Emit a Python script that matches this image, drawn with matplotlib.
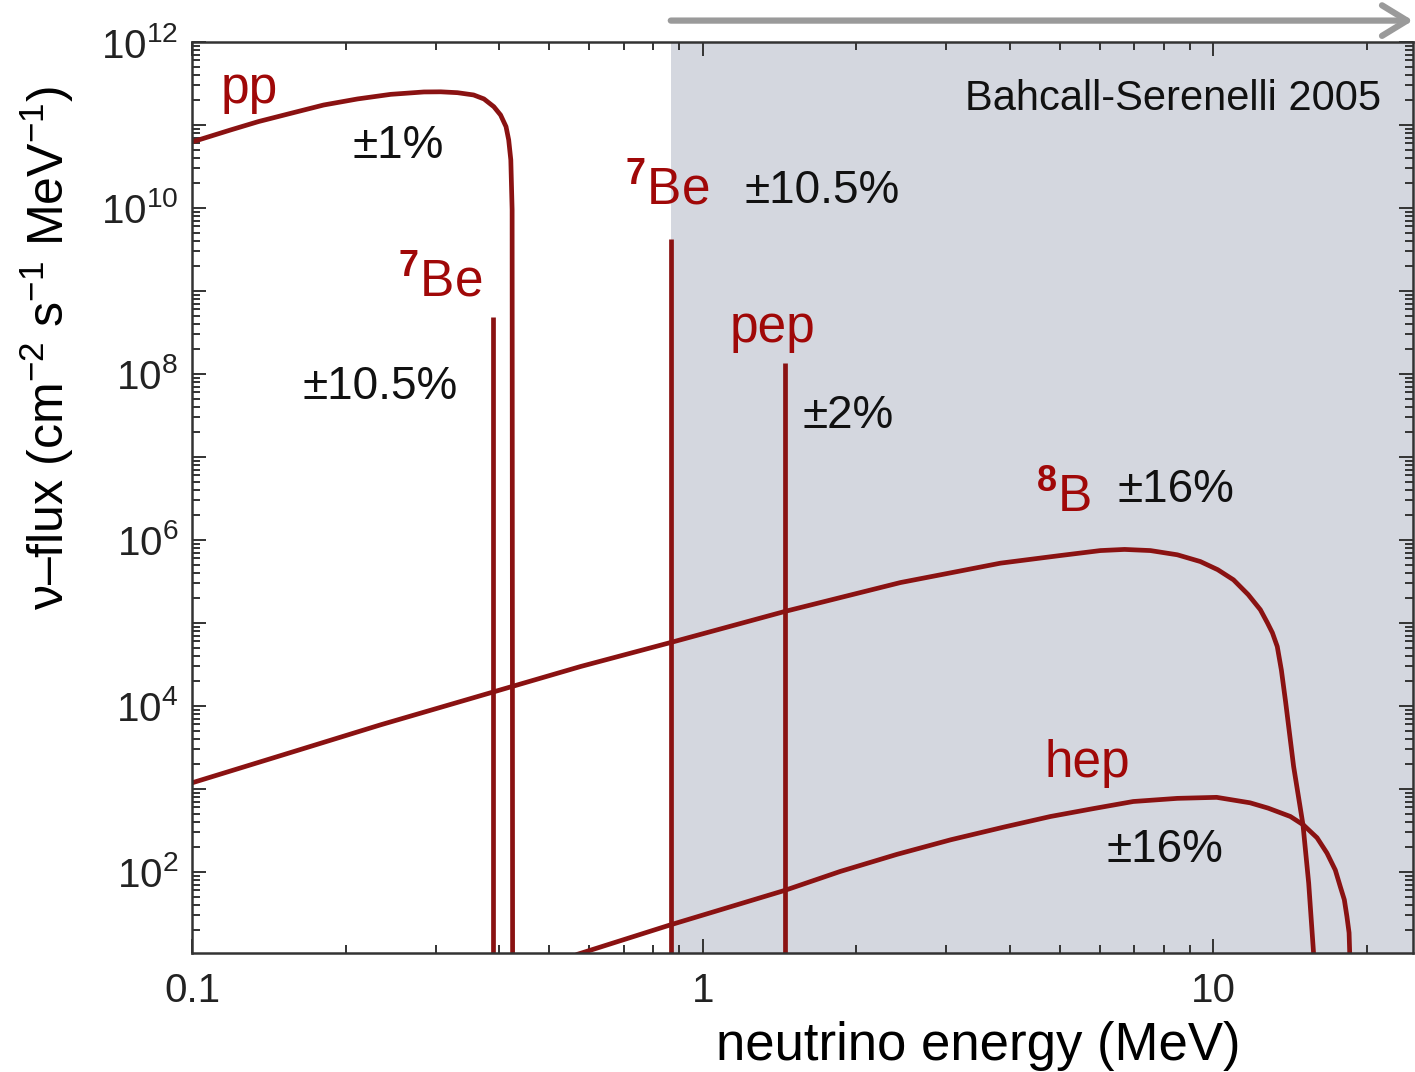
import matplotlib
matplotlib.use("Agg")
import matplotlib.pyplot as plt
from matplotlib.ticker import LogLocator, FuncFormatter, FixedLocator, NullFormatter
import numpy as np

plt.rcParams['font.family'] = ['Liberation Sans', 'DejaVu Sans']
plt.rcParams['mathtext.fontset'] = 'custom'
plt.rcParams['mathtext.rm'] = 'Liberation Sans'
plt.rcParams['mathtext.it'] = 'Liberation Sans:italic'
plt.rcParams['mathtext.bf'] = 'Liberation Sans:bold'
plt.rcParams['mathtext.default'] = 'regular'

# ---------------- data ----------------
pp_E = [0.100, 0.119, 0.135, 0.156, 0.181, 0.211, 0.245, 0.2845, 0.307, 0.331, 0.356,
        0.373, 0.390, 0.402, 0.412, 0.417, 0.421, 0.4235, 0.4245]
pp_F = [6.24e10, 8.71e10, 1.10e11, 1.38e11, 1.74e11, 2.06e11, 2.34e11, 2.50e11, 2.51e11,
        2.45e11, 2.30e11, 2.06e11, 1.66e11, 1.32e11, 9.55e10, 6.61e10, 3.80e10, 9.55e9, 1.0]

b8_E = [0.100, 0.150, 0.234, 0.577, 0.866, 1.447, 2.44, 3.10, 3.83, 5.00, 6.01, 6.70,
        7.53, 8.50, 9.43, 10.2, 10.95, 11.7, 12.36, 12.76, 13.05, 13.34, 13.59, 13.85,
        14.36, 14.98, 15.37, 15.72]
b8_F = [1.18e3, 2.54e3, 5.9e3, 2.98e4, 5.8e4, 1.37e5, 3.06e5, 4.07e5, 5.24e5, 6.46e5,
        7.43e5, 7.67e5, 7.43e5, 6.61e5, 5.48e5, 4.37e5, 3.30e5, 2.19e5, 1.44e5, 1.0e5,
        7.59e4, 5.18e4, 2.69e4, 1.12e4, 1.86e3, 3.68e2, 7.3e1, 1.0e1]

hep_E = [0.565, 0.866, 1.447, 1.86, 2.40, 3.06, 3.90, 4.80, 5.80, 6.97, 8.50, 10.15,
         11.8, 12.8, 14.15, 15.0, 15.96, 16.69, 17.33, 17.72, 18.05, 18.26, 18.44, 18.52]
hep_F = [10.0, 23.0, 59.6, 101.0, 162.0, 243.0, 347.0, 464.0, 575.0, 703.0, 767.0, 789.0,
         678.0, 585.0, 464.0, 368.0, 257.0, 168.0, 105.0, 66.5, 46.0, 29.0, 18.4, 7.9]

line_E = [0.388, 0.866, 1.447]          # 7Be, 7Be, pep
line_F = [4.9e8, 4.2e9, 1.37e8]

shade_start = 0.866
xlim = (0.1, 24.6)
ylim = (10.5, 1e12)

x_major = [0.1, 1, 10]
x_labels = ['0.1', '1', '10']

# ---------------- figure ----------------
fig = plt.figure(figsize=(14.15, 10.72), dpi=100)
ax = fig.add_axes([192/1415, 1 - 953/1072, (1413-192)/1415, (953-42)/1072])
ax.set_xscale('log')
ax.set_yscale('log')
ax.set_xlim(*xlim)
ax.set_ylim(*ylim)

ax.axvspan(shade_start, xlim[1] * 2, color='#D4D7DF', zorder=0, lw=0)

lc = '#8A1212'
lw = 3.4
kw = dict(color=lc, lw=lw, solid_capstyle='butt', solid_joinstyle='round', zorder=3)
ax.plot(pp_E, pp_F, **kw)
ax.plot(b8_E, b8_F, **kw)
ax.plot(hep_E, hep_F, **kw)
ax.vlines(line_E, 1.0, line_F, color=lc, lw=lw, zorder=3)

# ticks
ax.xaxis.set_major_locator(FixedLocator(x_major))
ax.xaxis.set_major_formatter(FuncFormatter(lambda v, p: x_labels[x_major.index(v)] if v in x_major else ''))
ax.xaxis.set_minor_locator(LogLocator(base=10, subs=np.arange(2, 10), numticks=100))
ax.xaxis.set_minor_formatter(NullFormatter())

ax.yaxis.set_major_locator(LogLocator(base=10, numticks=100))
def yfmt(v, p):
    e = int(round(np.log10(v)))
    return r'$\mathdefault{10^{%d}}$' % e if e % 2 == 0 else ''
ax.yaxis.set_major_formatter(FuncFormatter(yfmt))
ax.yaxis.set_minor_locator(LogLocator(base=10, subs=np.arange(2, 10), numticks=100))
ax.yaxis.set_minor_formatter(NullFormatter())

ax.tick_params(which='both', direction='in', top=True, right=True, color='#333333', width=1.4)
ax.tick_params(which='major', length=10, labelsize=29, labelcolor='#222222')
ax.tick_params(which='minor', length=5.5)
ax.tick_params(axis='x', which='major', pad=14)
ax.tick_params(axis='y', which='major', pad=10)
for s in ax.spines.values():
    s.set_color('#333333')
    s.set_linewidth(1.8)
    s.set_zorder(5)

# labels
fig.text(978/1415, 1 - 1046/1072, 'neutrino energy (MeV)', fontsize=38,
         ha='center', va='center', color='#000000')
fig.text(47/1415, 1 - 348/1072, 'ν–flux (cm$^{-2}$ s$^{-1}$ MeV$^{-1}$)', fontsize=36,
         rotation=90, ha='center', va='center', color='#000000')

red = '#A00808'
blk = '#111111'
def axtext(px, py, s, color, size, ha='left'):
    ax.text((px - 192) / 1221, (953 - py) / 911, s, transform=ax.transAxes,
            color=color, fontsize=size, ha=ha, va='baseline', zorder=6)

axtext(221, 103, 'pp', red, 37)
axtext(352, 158, '±1%', blk, 33)
axtext(398, 297, r'$^{\mathbf{7}}$Be', red, 37)
axtext(302, 399, '±10.5%', blk, 33)
axtext(625, 205, r'$^{\mathbf{7}}$Be', red, 37)
axtext(745, 203, '±10.5%', blk, 33)
axtext(730, 342, 'pep', red, 37)
axtext(803, 428, '±2%', blk, 33)
axtext(1036, 512, r'$^{\mathbf{8}}$B', red, 37)
axtext(1118, 502, '±16%', blk, 33)
axtext(1045, 777, 'hep', red, 37)
axtext(1106, 862, '±16%', blk, 33)
axtext(1381, 110, 'Bahcall-Serenelli 2005', blk, 30, ha='right')

# arrow above the shaded region
ax.annotate('', xy=(xlim[1], 1.0235), xytext=(shade_start, 1.0235),
            xycoords=('data', 'axes fraction'), textcoords=('data', 'axes fraction'),
            arrowprops=dict(arrowstyle='->,head_length=0.9,head_width=0.55', lw=4.5,
                            color='#9A9A9A', mutation_scale=20, shrinkA=0, shrinkB=0),
            annotation_clip=False)

fig.savefig('out.png', dpi=100)
